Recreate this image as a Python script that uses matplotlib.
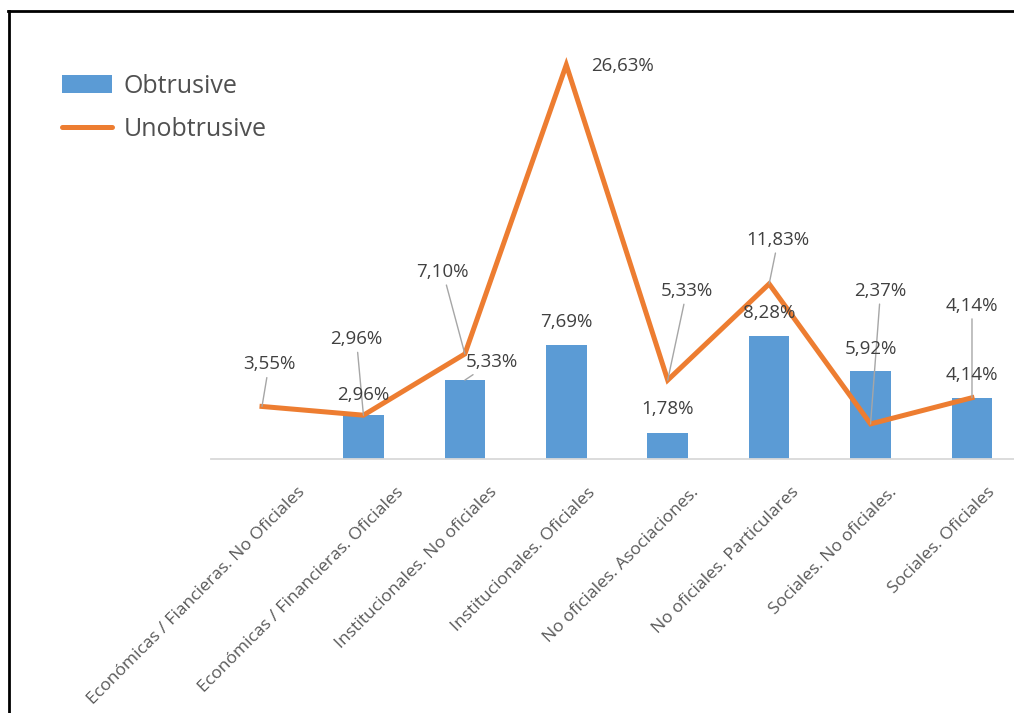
import numpy as np
import matplotlib
matplotlib.use("Agg")
import matplotlib.pyplot as plt
from matplotlib.lines import Line2D
from matplotlib.patches import Patch
from matplotlib.transforms import ScaledTranslation

plt.rcParams['font.family'] = ['Open Sans', 'DejaVu Sans']

# datos
categorias = [
    "Económicas / Fiancieras. No Oficiales",
    "Económicas / Financieras. Oficiales",
    "Institucionales. No oficiales",
    "Institucionales. Oficiales",
    "No oficiales. Asociaciones.",
    "No oficiales. Particulares",
    "Sociales. No oficiales.",
    "Sociales. Oficiales",
]
obtrusive = [0.0, 2.96, 5.33, 7.69, 1.78, 8.28, 5.92, 4.14]
unobtrusive = [3.55, 2.96, 7.10, 26.63, 5.33, 11.83, 2.37, 4.14]

AZUL = '#5B9BD5'
NARANJA = '#ED7D31'
GRIS_TXT = '#404040'
GRIS_LINEA = '#A6A6A6'

W, H = 1014, 713
fig = plt.figure(figsize=(W / 100, H / 100), dpi=100)
ax = fig.add_axes([211.3 / W, (H - 459) / H, 811.4 / W, (459 - 44.6) / H])

x = np.arange(len(categorias))
ax.bar(x, obtrusive, width=0.4, color=AZUL, zorder=2)
ax.plot(x, unobtrusive, color=NARANJA, lw=3.6, solid_joinstyle='miter', zorder=3)

ax.set_xlim(-0.5, len(categorias) - 0.5)
ax.set_ylim(0, 28)
for s in ['top', 'left', 'right']:
    ax.spines[s].set_visible(False)
ax.spines['bottom'].set_color('#D9D9D9')
ax.spines['bottom'].set_linewidth(1.3)
ax.set_yticks([])
ax.set_xticks([])


def fmt(v):
    return ("%.2f%%" % v).replace('.', ',')


# etiquetas de la línea (desplazamiento en píxeles, con línea guía)
off_linea = [(7, 42), (-7, 76), (-22, 82), (56, -1), (19, 89), (9, 44), (10, 133), (0, 92)]
for i, v in enumerate(unobtrusive):
    dx, dy = off_linea[i]
    guia = None
    if abs(dy) > 20:
        guia = dict(arrowstyle='-', color=GRIS_LINEA, lw=1, shrinkA=1, shrinkB=0)
    ax.annotate(fmt(v), xy=(i, v), xytext=(dx, dy), textcoords='offset pixels',
                ha='center', va='center', fontsize=13.5, color=GRIS_TXT,
                arrowprops=guia, zorder=4)

# etiquetas de las barras
off_barra = [(0, 20), (0, 20), (27, 18), (0, 23), (0, 24), (0, 23), (0, 22), (0, 23)]
for i, v in enumerate(obtrusive):
    if v == 0:
        continue
    dx, dy = off_barra[i]
    guia = None
    if abs(dx) > 10:
        guia = dict(arrowstyle='-', color=GRIS_LINEA, lw=1, shrinkA=1, shrinkB=0)
    ax.annotate(fmt(v), xy=(i, v), xytext=(dx, dy), textcoords='offset pixels',
                ha='center', va='center', fontsize=13.5, color=GRIS_TXT,
                arrowprops=guia, zorder=4)

# etiquetas del eje x giradas 45 grados
trans = ax.get_xaxis_transform() + ScaledTranslation(0, -31 / 100, fig.dpi_scale_trans)
etiquetas = []
for i, c in enumerate(categorias):
    t = ax.text(i, 0, c, rotation=45, rotation_mode='anchor', ha='right', va='center',
                fontsize=12.6, color='#595959', transform=trans, clip_on=False)
    etiquetas.append(t)

fig.canvas.draw()
px_por_cat = ax.get_window_extent().width / len(categorias)
for i, t in enumerate(etiquetas):
    w = t.get_window_extent().width
    t.set_x(i + 0.18 * w / px_por_cat)

# leyenda
handles = [Patch(facecolor=AZUL, edgecolor='none'),
           Line2D([], [], color=NARANJA, lw=3.6, solid_capstyle='round')]
fig.legend(handles, ['Obtrusive', 'Unobtrusive'], loc='upper left',
           bbox_to_anchor=(62 / W, 1 - 74 / H), frameon=False, fontsize=18,
           labelcolor='#505050', handlelength=2.0, handleheight=0.75,
           handletextpad=0.45, labelspacing=0.72, borderpad=0, borderaxespad=0)

# marco
fig.add_artist(Line2D([8 / W, 1], [1 - 11 / H] * 2, color='black', lw=2, transform=fig.transFigure))
fig.add_artist(Line2D([9 / W] * 2, [0, 1 - 11 / H], color='black', lw=2, transform=fig.transFigure))

fig.savefig('out.png', dpi=100)
